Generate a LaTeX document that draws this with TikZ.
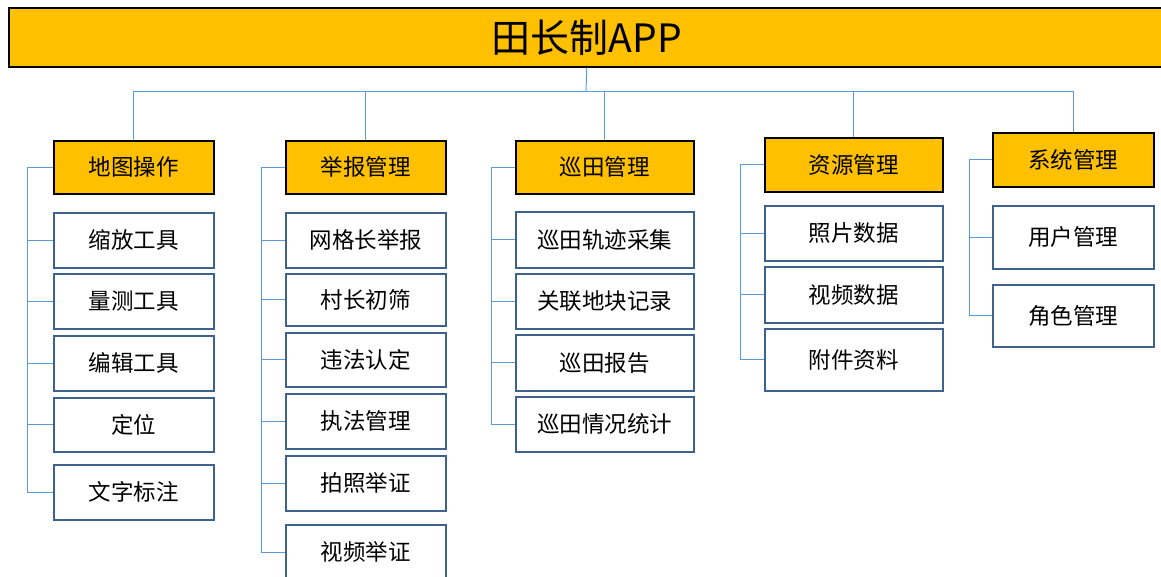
\documentclass[tikz,border=0pt]{standalone}
\usepackage{fontspec}
\setmainfont{Noto Sans CJK SC}
\usepackage{tikz}
\usetikzlibrary{calc}

\definecolor{appgold}{RGB}{255,192,0}
\definecolor{linkblue}{RGB}{91,155,213}
\definecolor{leafedge}{RGB}{62,98,142}

\begin{document}
\begin{tikzpicture}[x=1pt, y=-1pt,
    appbox/.style={draw=black, line width=1.5pt, fill=appgold, inner sep=0pt, anchor=north west},
    catbox/.style={appbox, font=\fontsize{22.5}{26}\selectfont},
    leafbox/.style={draw=leafedge, line width=1.6pt, fill=white, inner sep=0pt, anchor=north west, font=\fontsize{22.5}{26}\selectfont},
    link/.style={draw=linkblue, line width=1pt}]
    \clip (0, 0) rectangle (1161, 576);

    \node[appbox, minimum width=1156pt, minimum height=59pt, font=\fontsize{39}{44}\selectfont] (app) at (8, 7) {田长制APP};

    % categories
    \node[catbox, minimum width=160pt, minimum height=53pt] (c1) at (53, 140) {地图操作};
    \node[catbox, minimum width=160pt, minimum height=53pt] (c2) at (285, 140) {举报管理};
    \node[catbox, minimum width=178pt, minimum height=53pt] (c3) at (515, 140) {巡田管理};
    \node[catbox, minimum width=178pt, minimum height=54pt] (c4) at (764, 137) {资源管理};
    \node[catbox, minimum width=161pt, minimum height=54pt] (c5) at (992, 132) {系统管理};

    \coordinate (hub) at (586, 91);
    \draw[link] (app.south) -- (hub);
    \foreach \c in {1, ..., 5} {
        \draw[link] (hub) -| (c\c.north);
    }

    % leaves
    \foreach \y/\h/\t [count=\i] in {212/55/缩放工具, 273/55/量测工具, 335/55/编辑工具, 397/54/定位, 464/55/文字标注} {
        \node[leafbox, minimum width=160pt, minimum height=\h pt] (c1-\i) at (53, \y) {\t};
        \draw[link] (c1.west) -- ++(-26, 0) |- (c1-\i.west);
    }
    \foreach \y/\h/\t [count=\i] in {212/55/网格长举报, 273/52/村长初筛, 332/54/违法认定, 393/55/执法管理, 455/55/拍照举证, 524/55/视频举证} {
        \node[leafbox, minimum width=160pt, minimum height=\h pt] (c2-\i) at (285, \y) {\t};
        \draw[link] (c2.west) -- ++(-24, 0) |- (c2-\i.west);
    }
    \foreach \y/\h/\t [count=\i] in {211/56/巡田轨迹采集, 273/55/关联地块记录, 334/56/巡田报告, 396/55/巡田情况统计} {
        \node[leafbox, minimum width=178pt, minimum height=\h pt] (c3-\i) at (515, \y) {\t};
        \draw[link] (c3.west) -- ++(-24, 0) |- (c3-\i.west);
    }
    \foreach \y/\h/\t [count=\i] in {205/55/照片数据, 266/56/视频数据, 328/62/附件资料} {
        \node[leafbox, minimum width=178pt, minimum height=\h pt] (c4-\i) at (764, \y) {\t};
        \draw[link] (c4.west) -- ++(-24, 0) |- (c4-\i.west);
    }
    \foreach \y/\h/\t [count=\i] in {205/63/用户管理, 284/62/角色管理} {
        \node[leafbox, minimum width=161pt, minimum height=\h pt] (c5-\i) at (992, \y) {\t};
        \draw[link] (c5.west) -- ++(-23, 0) |- (c5-\i.west);
    }
\end{tikzpicture}
\end{document}
